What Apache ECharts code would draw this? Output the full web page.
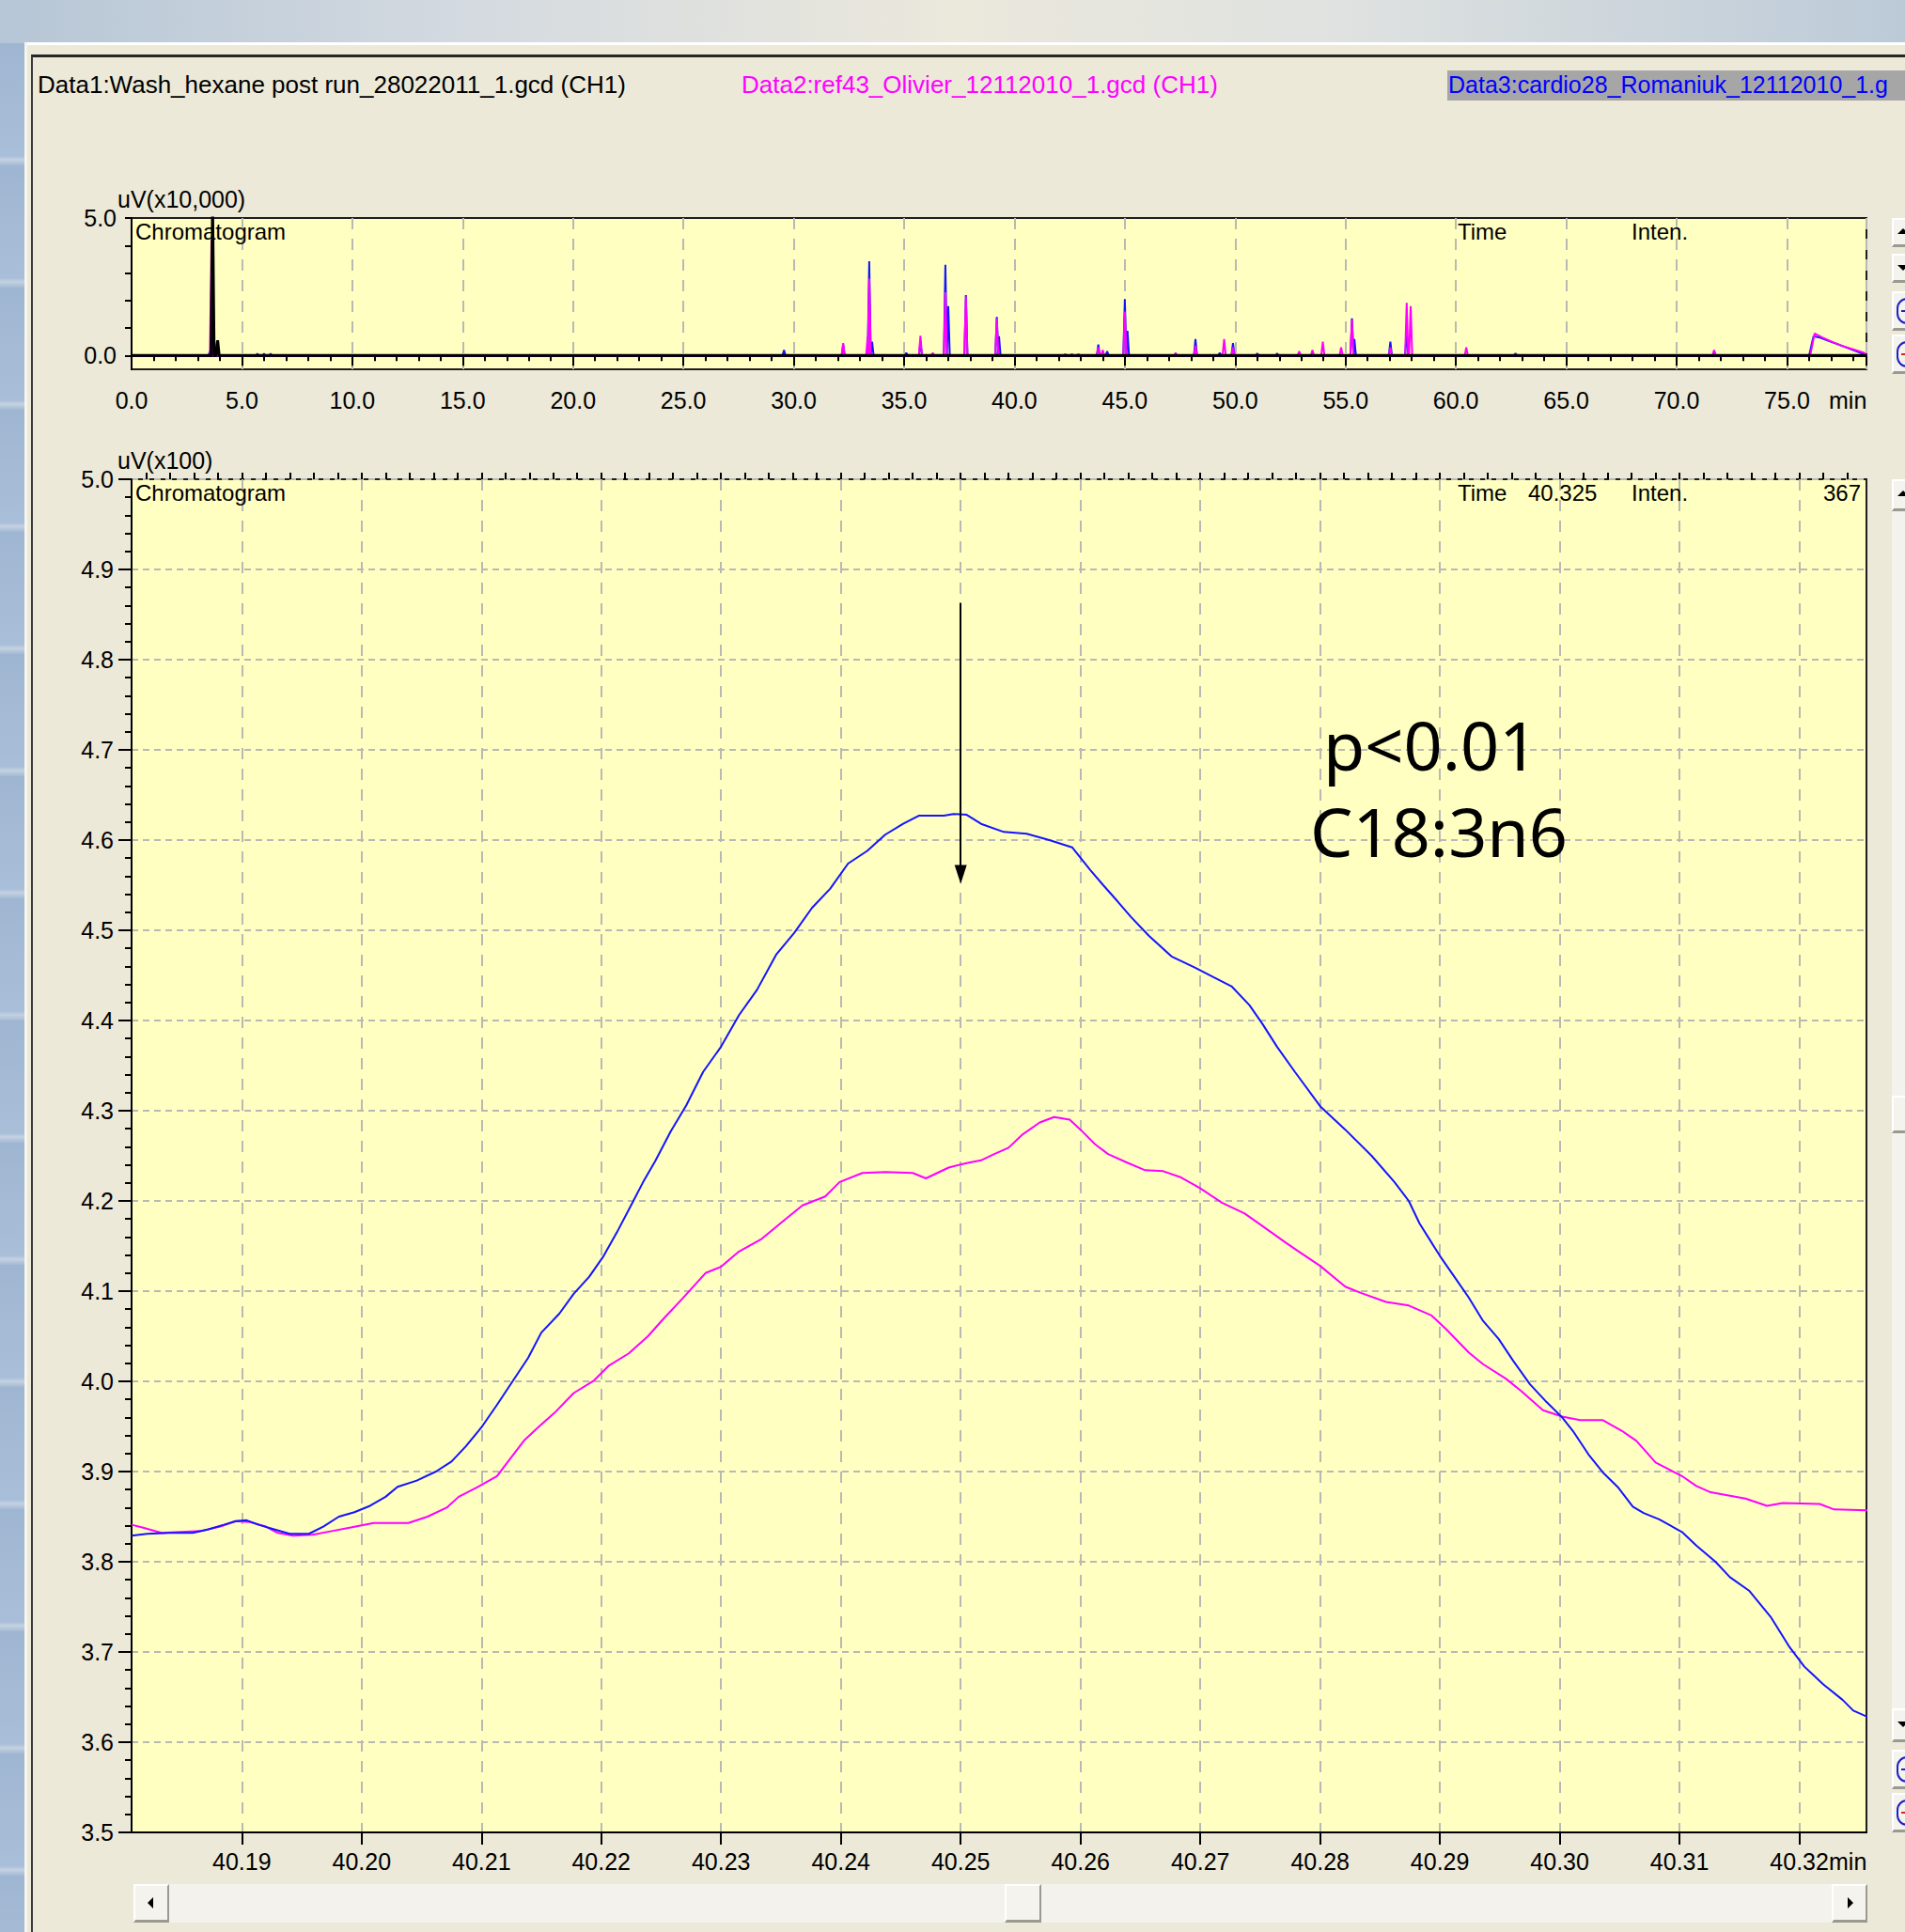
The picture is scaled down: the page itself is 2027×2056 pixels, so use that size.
<!DOCTYPE html>
<html>
<head>
<meta charset="utf-8">
<script src="https://cdn.jsdelivr.net/npm/echarts@6/dist/echarts.min.js"></script>
<style>
  html, body { margin: 0; padding: 0; width: 2027px; height: 2056px; overflow: hidden; background: #ECE9D8; }
  .abs { position: absolute; box-sizing: border-box; }
  #deskTop { left: 0; top: 0; width: 2027px; height: 46px;
    background: linear-gradient(to right, #b6c6d6 0%, #d4dae0 25%, #ebe8dc 50%, #dfe2e0 70%, #bccad8 100%); }
  #deskLeft { left: 0; top: 46px; width: 26px; height: 2010px;
    background: repeating-linear-gradient(to bottom, #9fb6d2 0px, #a9bed8 120px, #c4d2e2 124px, #a4bad4 130px); }
  #winTopWhite { left: 26px; top: 45px; width: 2001px; height: 3px; background: #ffffff; }
  #winLeftWhite { left: 26px; top: 45px; width: 3px; height: 2011px; background: #f6f5ee; }
  #frame { left: 33px; top: 58px; width: 2000px; height: 2000px; border-top: 3px solid #262626; border-left: 2px solid #3a3a3a; }
  #d3box { left: 1540px; top: 75px; width: 500px; height: 32px; background: #a6a6a6; }
  .btn { background: #f4f3ee; border-top: 2px solid #ffffff; border-left: 2px solid #ffffff; border-bottom: 3px solid #9a9a90; border-right: 2px solid #9a9a90; }
  #track { left: 142px; top: 2005px; width: 1845px; height: 41px; background: #f3f2ec; }
  #vtrack { left: 2013px; top: 545px; width: 14px; height: 1275px; background: #f3f2ec; }
  .tri { width: 0; height: 0; position: absolute; }
  #chart { position: absolute; left: 0; top: 0; width: 2027px; height: 2056px; }
</style>
</head>
<body>
<div id="deskTop" class="abs"></div>
<div id="deskLeft" class="abs"></div>
<div id="winTopWhite" class="abs"></div>
<div id="winLeftWhite" class="abs"></div>
<div id="frame" class="abs"></div>
<div id="d3box" class="abs"></div>

<!-- horizontal scrollbar -->
<div id="track" class="abs"></div>
<div class="abs btn" style="left:142px;top:2005px;width:38px;height:41px;">
  <div class="tri" style="left:13px;top:12px;border-top:6px solid transparent;border-bottom:6px solid transparent;border-right:6px solid #000;"></div>
</div>
<div class="abs btn" style="left:1069px;top:2005px;width:39px;height:41px;"></div>
<div class="abs btn" style="left:1949px;top:2005px;width:38px;height:41px;">
  <div class="tri" style="left:15px;top:12px;border-top:6px solid transparent;border-bottom:6px solid transparent;border-left:6px solid #000;"></div>
</div>

<!-- right toolbar (top plot) -->
<div class="abs btn" style="left:2013px;top:232px;width:30px;height:31px;">
  <div class="tri" style="left:4px;top:9px;border-left:6px solid transparent;border-right:6px solid transparent;border-bottom:6px solid #000;"></div>
</div>
<div class="abs btn" style="left:2013px;top:270px;width:30px;height:31px;">
  <div class="tri" style="left:4px;top:10px;border-left:6px solid transparent;border-right:6px solid transparent;border-top:6px solid #000;"></div>
</div>
<div class="abs btn" style="left:2013px;top:310px;width:30px;height:42px;">
  <div class="abs" style="left:3px;top:5px;width:28px;height:28px;border:2px solid #2020c0;border-radius:40%;"></div>
  <div class="abs" style="left:8px;top:18px;width:10px;height:2px;background:#2020c0;"></div>
</div>
<div class="abs btn" style="left:2013px;top:356px;width:30px;height:42px;">
  <div class="abs" style="left:3px;top:5px;width:28px;height:28px;border:2px solid #2020c0;border-radius:40%;"></div>
  <div class="abs" style="left:8px;top:18px;width:10px;height:2px;background:#e02020;"></div>
</div>

<!-- right toolbar (main plot) -->
<div id="vtrack" class="abs"></div>
<div class="abs btn" style="left:2013px;top:510px;width:30px;height:34px;">
  <div class="tri" style="left:4px;top:10px;border-left:6px solid transparent;border-right:6px solid transparent;border-bottom:6px solid #000;"></div>
</div>
<div class="abs btn" style="left:2013px;top:1166px;width:30px;height:40px;"></div>
<div class="abs btn" style="left:2013px;top:1818px;width:30px;height:36px;">
  <div class="tri" style="left:4px;top:12px;border-left:6px solid transparent;border-right:6px solid transparent;border-top:6px solid #000;"></div>
</div>
<div class="abs btn" style="left:2013px;top:1862px;width:30px;height:42px;">
  <div class="abs" style="left:3px;top:5px;width:28px;height:28px;border:2px solid #2020c0;border-radius:40%;"></div>
  <div class="abs" style="left:8px;top:18px;width:10px;height:2px;background:#2020c0;"></div>
</div>
<div class="abs btn" style="left:2013px;top:1908px;width:30px;height:42px;">
  <div class="abs" style="left:3px;top:5px;width:28px;height:28px;border:2px solid #2020c0;border-radius:40%;"></div>
  <div class="abs" style="left:8px;top:18px;width:10px;height:2px;background:#e02020;"></div>
</div>

<div id="chart"></div>

<script>
// ---------------- DATA ----------------
// Zoomed window (uV x100) : [time (min), intensity]
const blueTrace = [
  [40.1808,3.829],[40.1821,3.831],[40.1840,3.832],[40.1859,3.832],[40.1872,3.836],[40.1885,3.841],
  [40.1895,3.845],[40.1904,3.846],[40.1914,3.841],[40.1927,3.836],[40.1940,3.831],[40.1956,3.831],
  [40.1968,3.839],[40.1981,3.850],[40.1994,3.855],[40.2007,3.862],[40.2020,3.872],[40.2030,3.883],
  [40.2046,3.890],[40.2062,3.900],[40.2075,3.911],[40.2087,3.928],[40.2100,3.949],[40.2113,3.974],
  [40.2126,4.000],[40.2139,4.026],[40.2150,4.054],[40.2165,4.075],[40.2177,4.097],[40.2190,4.116],
  [40.2202,4.139],[40.2213,4.165],[40.2226,4.198],[40.2235,4.221],[40.2245,4.244],[40.2258,4.277],
  [40.2271,4.306],[40.2285,4.343],[40.2300,4.371],[40.2315,4.406],[40.2330,4.434],[40.2346,4.473],
  [40.2361,4.497],[40.2376,4.525],[40.2391,4.546],[40.2406,4.574],[40.2422,4.588],[40.2437,4.606],
  [40.2452,4.618],[40.2465,4.627],[40.2486,4.627],[40.2494,4.629],[40.2505,4.628],[40.2517,4.618],
  [40.2536,4.609],[40.2555,4.607],[40.2574,4.600],[40.2593,4.592],[40.2608,4.567],[40.2619,4.550],
  [40.2631,4.532],[40.2642,4.515],[40.2657,4.494],[40.2676,4.471],[40.2695,4.459],[40.2711,4.448],
  [40.2726,4.438],[40.2741,4.417],[40.2752,4.396],[40.2764,4.371],[40.2779,4.343],[40.2800,4.305],
  [40.2821,4.279],[40.2843,4.250],[40.2862,4.221],[40.2874,4.200],[40.2883,4.175],[40.2900,4.139],
  [40.2912,4.116],[40.2924,4.093],[40.2936,4.067],[40.2949,4.047],[40.2961,4.023],[40.2975,3.997],
  [40.2989,3.977],[40.3002,3.960],[40.3011,3.945],[40.3024,3.919],[40.3036,3.899],[40.3049,3.882],
  [40.3061,3.861],[40.3070,3.854],[40.3083,3.847],[40.3102,3.833],[40.3114,3.818],[40.3130,3.800],
  [40.3142,3.783],[40.3158,3.768],[40.3176,3.739],[40.3192,3.705],[40.3204,3.684],[40.3220,3.664],
  [40.3236,3.647],[40.3245,3.635],[40.3257,3.628]
];
const magentaTrace = [
  [40.1808,3.841],[40.1817,3.838],[40.1833,3.832],[40.1866,3.834],[40.1882,3.839],[40.1895,3.845],
  [40.1907,3.844],[40.1920,3.839],[40.1930,3.832],[40.1943,3.829],[40.1959,3.830],[40.1975,3.834],
  [40.1991,3.838],[40.2010,3.843],[40.2039,3.843],[40.2055,3.850],[40.2071,3.860],[40.2081,3.872],
  [40.2097,3.883],[40.2113,3.895],[40.2121,3.909],[40.2136,3.935],[40.2149,3.951],[40.2161,3.965],
  [40.2177,3.987],[40.2194,4.001],[40.2206,4.017],[40.2223,4.031],[40.2239,4.050],[40.2251,4.068],
  [40.2268,4.092],[40.2287,4.120],[40.2300,4.127],[40.2315,4.144],[40.2334,4.158],[40.2353,4.179],
  [40.2368,4.195],[40.2387,4.205],[40.2399,4.221],[40.2418,4.231],[40.2437,4.232],[40.2460,4.231],
  [40.2471,4.225],[40.2490,4.237],[40.2505,4.242],[40.2517,4.245],[40.2528,4.252],[40.2540,4.259],
  [40.2551,4.273],[40.2566,4.287],[40.2578,4.293],[40.2591,4.290],[40.2600,4.279],[40.2612,4.263],
  [40.2623,4.252],[40.2638,4.243],[40.2654,4.234],[40.2669,4.233],[40.2684,4.226],[40.2700,4.214],
  [40.2718,4.198],[40.2737,4.186],[40.2752,4.172],[40.2771,4.154],[40.2781,4.145],[40.2800,4.128],
  [40.2821,4.105],[40.2834,4.098],[40.2855,4.088],[40.2874,4.084],[40.2893,4.073],[40.2905,4.058],
  [40.2924,4.032],[40.2936,4.019],[40.2955,4.003],[40.2968,3.989],[40.2986,3.968],[40.3002,3.961],
  [40.3017,3.957],[40.3036,3.957],[40.3052,3.945],[40.3064,3.934],[40.3080,3.910],[40.3102,3.895],
  [40.3114,3.884],[40.3126,3.877],[40.3155,3.870],[40.3173,3.862],[40.3186,3.865],[40.3217,3.864],
  [40.3229,3.858],[40.3257,3.857]
];

// Full chromatogram (uV x10,000): peak apex times (min) and heights
const topBlueTimes   = [3.55,3.75,5.7,6.0,6.3,29.56,32.24,33.42,33.55,35.1,35.74,36.87,37.0,37.8,39.2,39.3,43.8,44.2,45.0,45.12,48.2,49.3,49.9,51.0,51.9,55.29,55.4,57.03,57.77,62.7,71.7];
const topBlueHeights = [0.15,0.5,0.07,0.07,0.07,0.2,0.4,3.43,0.5,0.1,0.5,3.3,1.8,2.2,1.4,0.7,0.4,0.15,2.05,0.9,0.6,0.1,0.45,0.08,0.08,1.35,0.6,0.5,0.9,0.08,0.15];
const topMagentaTimes   = [3.62,32.24,33.35,33.42,35.74,36.3,36.87,37.8,39.2,42.3,42.6,42.9,43.8,44.0,45.0,47.3,48.2,49.5,49.9,52.9,53.5,53.97,54.8,55.29,57.03,57.77,57.95,60.47,71.7];
const topMagentaHeights = [4.2,0.45,0.7,2.8,0.72,0.1,2.3,2.15,1.35,0.06,0.06,0.06,0.3,0.2,1.6,0.1,0.35,0.6,0.3,0.15,0.2,0.5,0.3,1.3,0.3,1.92,1.8,0.3,0.2];
const topBlackTimes   = [3.67,3.9];
const topBlackHeights = [5.6,0.55];
// late-eluting hump
const humpBlueTimes   = [76.0,76.2,76.5,77.0,77.5,78.0,78.4];
const humpBlueHeights = [0.0,0.70,0.65,0.50,0.35,0.20,0.08];
const humpMagentaTimes   = [76.05,76.25,76.6,77.1,77.6,78.1,78.5];
const humpMagentaHeights = [0.0,0.80,0.66,0.48,0.32,0.20,0.10];

// axes / tick labels
const mainXTicks = [40.19,40.20,40.21,40.22,40.23,40.24,40.25,40.26,40.27,40.28,40.29,40.30,40.31,40.32];
const mainXRange = [40.1808, 40.3256];
const mainYRange = [3.5, 5.0];
const topXRange = [0, 78.6];
const topYRange = [-0.5, 5.0];
const topYTicks = [0, 1, 2, 3, 4, 5];
const topYLabels = [0, 5];

// annotation
const arrowTime = 40.25, arrowFrom = 4.863, arrowTo = 4.562;

// ---------------- BUILD ----------------
function spikeTrace(times, heights, humpT, humpH) {
  const pts = [[topXRange[0], 0]];
  const w = 0.07;
  times.forEach((t, i) => { pts.push([t - w, 0], [t, heights[i]], [t + w, 0]); });
  if (humpT) humpT.forEach((t, i) => pts.push([t, humpH[i]]));
  pts.push([topXRange[1], 0]);
  return pts;
}
const mainXMinor = [];
for (let i = 0; i < mainXTicks.length; i++) {
  for (let k = -4; k <= 4; k++) {
    const v = +(mainXTicks[i] + k * 0.002).toFixed(3);
    if (v > mainXRange[0] && v < mainXRange[1] && mainXMinor.indexOf(v) < 0) mainXMinor.push(v);
  }
}
mainXMinor.sort((a, b) => a - b);

const FONT = "'Liberation Sans', Arial, Helvetica, sans-serif";
const BLUE = '#1414ff', MAGENTA = '#ff00ff';
const GRIDCOL = '#b9b9b4';

const chart = echarts.init(document.getElementById('chart'), null, { renderer: 'svg' });

function txt(text, x, y, opt) {
  return Object.assign({
    type: 'text', x: x, y: y, z: 50,
    style: Object.assign({ text: text, fill: '#000', fontSize: 25, fontFamily: FONT,
      textAlign: 'left', textVerticalAlign: 'middle', align: 'left', verticalAlign: 'middle' }, opt || {})
  });
}

const option = {
  animation: false,
  backgroundColor: 'transparent',
  grid: [
    { left: 140, top: 232, width: 1846, height: 161, show: true, backgroundColor: '#FFFFC2', borderColor: '#1e1e1e', borderWidth: 2 },
    { left: 140, top: 510, width: 1846, height: 1440, show: true, backgroundColor: '#FFFFC2', borderColor: '#1e1e1e', borderWidth: 2 }
  ],
  xAxis: [
    { gridIndex: 0, type: 'value', min: topXRange[0], max: topXRange[1], interval: 5,
      axisLine: { lineStyle: { color: '#000', width: 2 } },
      axisTick: { length: 11, lineStyle: { color: '#000', width: 2 } },
      minorTick: { show: true, splitNumber: 5, length: 6, lineStyle: { color: '#000', width: 2 } },
      axisLabel: { margin: 20, fontSize: 25, fontFamily: FONT, color: '#000', showMaxLabel: false,
        formatter: v => v.toFixed(1) },
      splitLine: { show: true, lineStyle: { color: GRIDCOL, type: [12, 10], width: 2 } } },
    { gridIndex: 1, type: 'value', min: mainXRange[0], max: mainXRange[1],
      axisLine: { lineStyle: { color: '#000', width: 2 } },
      axisTick: { customValues: mainXTicks, length: 13, lineStyle: { color: '#000', width: 2 } },
      axisLabel: { customValues: mainXTicks, margin: 18, fontSize: 25, fontFamily: FONT, color: '#000',
        formatter: v => v.toFixed(2) },
      splitLine: { show: true, lineStyle: { color: GRIDCOL, type: [12, 10], width: 2 } } },
    { gridIndex: 1, type: 'value', min: mainXRange[0], max: mainXRange[1],
      axisLine: { show: false },
      axisTick: { customValues: mainXMinor, length: 7, lineStyle: { color: '#000', width: 2 } },
      axisLabel: { show: false }, splitLine: { show: false } }
  ],
  yAxis: [
    { gridIndex: 0, type: 'value', min: topYRange[0], max: topYRange[1],
      axisLine: { show: true, lineStyle: { color: '#000', width: 2 } },
      axisTick: { show: true, customValues: topYTicks, length: 7, lineStyle: { color: '#000', width: 2 } },
      axisLabel: { customValues: topYLabels, margin: 16, fontSize: 25, fontFamily: FONT, color: '#000',
        formatter: v => v.toFixed(1) },
      splitLine: { show: false } },
    { gridIndex: 1, type: 'value', min: mainYRange[0], max: mainYRange[1], interval: 0.1,
      axisLine: { show: true, lineStyle: { color: '#000', width: 2 } },
      axisTick: { show: true, length: 14, lineStyle: { color: '#000', width: 2 } },
      minorTick: { show: true, splitNumber: 5, length: 7, lineStyle: { color: '#000', width: 2 } },
      axisLabel: { margin: 19, fontSize: 25, fontFamily: FONT, color: '#000', formatter: v => v.toFixed(1) },
      splitLine: { show: true, lineStyle: { color: GRIDCOL, type: [7, 5], width: 2 } } }
  ],
  series: [
    { type: 'line', xAxisIndex: 0, yAxisIndex: 0, data: spikeTrace(topBlueTimes, topBlueHeights, humpBlueTimes, humpBlueHeights),
      symbol: 'none', lineStyle: { color: BLUE, width: 2 }, silent: true, z: 3 },
    { type: 'line', xAxisIndex: 0, yAxisIndex: 0, data: spikeTrace(topMagentaTimes, topMagentaHeights, humpMagentaTimes, humpMagentaHeights),
      symbol: 'none', lineStyle: { color: MAGENTA, width: 2 }, silent: true, z: 4 },
    { type: 'line', xAxisIndex: 0, yAxisIndex: 0, data: spikeTrace(topBlackTimes, topBlackHeights),
      symbol: 'none', lineStyle: { color: '#000', width: 3 }, silent: true, z: 5 },
    { type: 'line', xAxisIndex: 1, yAxisIndex: 1, data: magentaTrace,
      symbol: 'none', lineStyle: { color: MAGENTA, width: 2 }, silent: true, z: 3 },
    { type: 'line', xAxisIndex: 1, yAxisIndex: 1, data: blueTrace,
      symbol: 'none', lineStyle: { color: BLUE, width: 2 }, silent: true, z: 4,
      markLine: { silent: true, animation: false, symbol: ['none', 'triangle'], symbolSize: [13, 20],
        lineStyle: { color: '#000', width: 2, type: 'solid' }, label: { show: false },
        data: [[{ coord: [arrowTime, arrowFrom] }, { coord: [arrowTime, arrowTo] }]] } }
  ],
  graphic: [
    txt('Data1:Wash_hexane post run_28022011_1.gcd (CH1)', 40, 90, { fontSize: 26 }),
    txt('Data2:ref43_Olivier_12112010_1.gcd (CH1)', 789, 90, { fontSize: 26, fill: MAGENTA }),
    txt('Data3:cardio28_Romaniuk_12112010_1.g', 1541, 90, { fontSize: 25, fill: '#0000ff' }),
    // top plot
    txt('uV(x10,000)', 125, 212),
    txt('Chromatogram', 144, 246, { fontSize: 24 }),
    txt('Time', 1551, 246, { fontSize: 24 }),
    txt('Inten.', 1736, 246, { fontSize: 24 }),
    txt('min', 1946, 426),
    // main plot
    txt('uV(x100)', 125, 490),
    txt('Chromatogram', 144, 524, { fontSize: 24 }),
    txt('Time', 1551, 524, { fontSize: 24 }),
    txt('40.325', 1626, 524, { fontSize: 24 }),
    txt('Inten.', 1736, 524, { fontSize: 24 }),
    txt('367', 1980, 524, { fontSize: 24, textAlign: 'right', align: 'right' }),
    txt('min', 1946, 1981),
    // annotation
    txt('p<0.01', 1408, 792, { fontSize: 72, fontFamily: "'Noto Sans', 'Open Sans', sans-serif" }),
    txt('C18:3n6', 1394, 884, { fontSize: 72, fontFamily: "'Noto Sans', 'Open Sans', sans-serif" })
  ]
};
chart.setOption(option);
</script>
</body>
</html>
